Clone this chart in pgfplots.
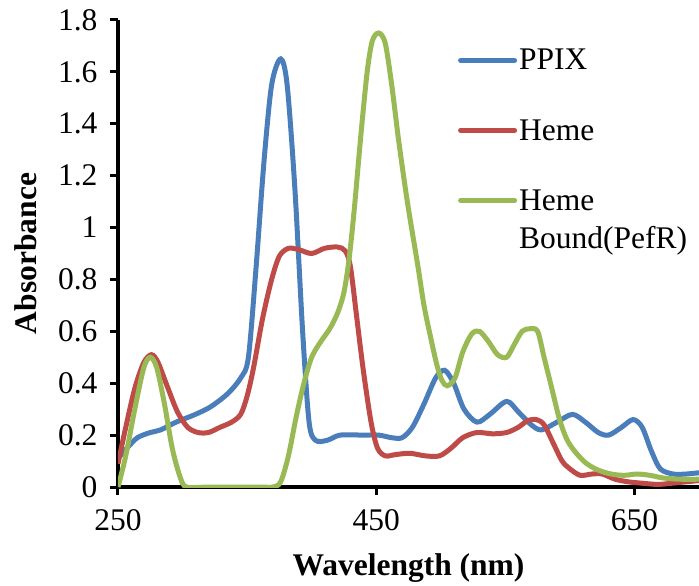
\documentclass[border=0pt]{standalone}
\usepackage{fontspec}
\setmainfont{Liberation Serif}
\usepackage{pgfplots}
\pgfplotsset{compat=1.18}
\definecolor{cblue}{HTML}{4A7EBB}
\definecolor{cred}{HTML}{BE4B48}
\definecolor{cgreen}{HTML}{98B954}
\newcommand{\bigfont}{\fontsize{31.5bp}{37bp}\selectfont}
\begin{document}
\begin{tikzpicture}
\begin{axis}[
  scale only axis, width=581bp, height=467bp,
  xmin=250, xmax=700, ymin=0, ymax=1.8,
  axis lines=left,
  axis line style={line width=4bp, -},
  xtick={250,450,650},
  ytick={0,0.2,0.4,0.6,0.8,1,1.2,1.4,1.6,1.8},
  tick style={line width=3bp, black},
  major tick length=8bp, tick align=outside,
  /pgf/number format/assume math mode=true,
  /pgf/number format/fixed,
  tick label style={font=\bigfont},
  yticklabel style={xshift=-9bp},
  xticklabel style={yshift=-11bp},
  xlabel={\textbf{Wavelength (nm)}},
  ylabel={\textbf{Absorbance}},
  label style={font=\bigfont},
  xlabel style={yshift=-16bp},
  ylabel style={yshift=14bp},
  legend style={draw=none, fill=none, at={(0.585,0.942)}, anchor=north west,
    font=\bigfont, row sep=44bp, inner sep=0pt},
  legend cell align=left,
  legend image code/.code={\draw[line width=5bp, line cap=round] (0bp,0bp) -- (54bp,0bp);},
  every axis plot/.append style={line width=5bp, smooth, tension=0.5},
  clip=true,
]
\addplot[cblue] coordinates {
(250,0.11)(257,0.15)(265,0.19)(275,0.21)(283,0.22)(295,0.25)(310,0.28)(322,0.31)
(335,0.36)(345,0.42)(351,0.50)(357,0.85)(363,1.25)(369,1.55)(376,1.65)(381,1.55)
(387,1.15)(393,0.6)(398,0.25)(403,0.18)(412,0.18)(422,0.20)(440,0.20)(452,0.20)
(462,0.19)(470,0.19)(478,0.23)(487,0.32)(496,0.42)(503,0.45)(510,0.40)(518,0.30)
(528,0.25)(538,0.28)(551,0.33)(560,0.29)(570,0.24)(578,0.22)(590,0.25)(602,0.28)
(612,0.25)(622,0.21)(630,0.20)(640,0.23)(649,0.26)(656,0.23)(663,0.14)(670,0.07)
(680,0.05)(690,0.05)(700,0.055)
};
\addlegendentry{PPIX}
\addplot[cred] coordinates {
(250,0.09)(256,0.23)(263,0.38)(270,0.48)(276,0.51)(281,0.48)(288,0.39)(296,0.29)
(304,0.23)(312,0.21)(320,0.21)(329,0.23)(338,0.25)(345,0.28)(350,0.35)(355,0.46)
(362,0.65)(369,0.80)(375,0.89)(382,0.92)(390,0.915)(400,0.90)(410,0.92)(420,0.925)
(426,0.91)(430,0.85)(435,0.65)(440,0.45)(446,0.25)(451,0.15)(457,0.12)(465,0.125)
(476,0.13)(488,0.12)(499,0.12)(508,0.15)(517,0.19)(528,0.21)(540,0.205)(551,0.21)
(560,0.23)(567,0.255)(574,0.26)(580,0.24)(587,0.17)(594,0.10)(600,0.07)(608,0.045)
(617,0.05)(625,0.05)(635,0.03)(645,0.02)(655,0.015)(668,0.01)(680,0.015)(690,0.02)
(700,0.025)
};
\addlegendentry{Heme}
\addplot[cgreen] coordinates {
(250,0.0)(256,0.12)(263,0.30)(270,0.46)(275,0.50)(280,0.46)(286,0.32)(292,0.15)
(298,0.04)(303,0.0)(320,0.0)(340,0.0)(360,0.0)(370,0.0)(376,0.02)(382,0.12)
(388,0.27)(394,0.40)(400,0.50)(407,0.56)(414,0.61)(420,0.67)(425,0.75)(429,0.88)
(433,1.07)(438,1.35)(443,1.60)(447,1.72)(452,1.75)(457,1.71)(462,1.55)(467,1.35)
(472,1.17)(476,1.04)(482,0.86)(487,0.70)(492,0.58)(497,0.47)(501,0.41)(505,0.39)
(511,0.42)(517,0.52)(524,0.59)(530,0.60)(537,0.56)(544,0.51)(551,0.50)(557,0.55)
(563,0.60)(569,0.61)(575,0.60)(580,0.50)(586,0.38)(592,0.26)(598,0.18)(605,0.13)
(613,0.09)(622,0.065)(632,0.05)(642,0.045)(652,0.05)(662,0.045)(672,0.035)(685,0.03)
(700,0.03)
};
\addlegendentry{\vtop{\baselineskip=38bp\hbox{Heme}\hbox{Bound(PefR)}}}
\end{axis}
\pgfresetboundingbox
\useasboundingbox (-118bp,-99bp) rectangle (581bp,487bp);
\end{tikzpicture}
\end{document}
